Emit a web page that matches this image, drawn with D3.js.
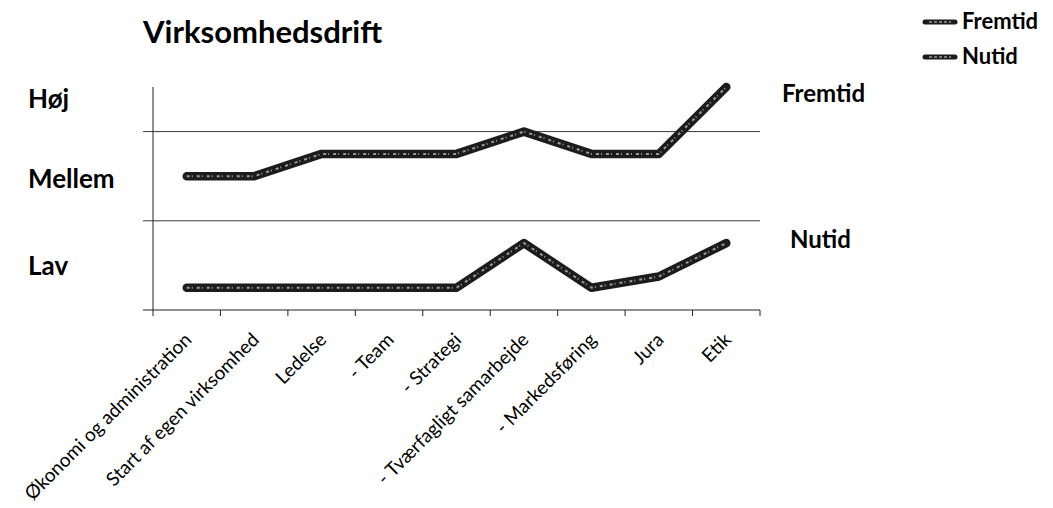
<!DOCTYPE html>
<html>
<head>
<meta charset="utf-8">
<script src="https://cdn.jsdelivr.net/npm/d3@7"></script>
<style>
  html, body { margin: 0; padding: 0; background: #fff; }
  svg { display: block; font-family: Lato, "Open Sans", sans-serif; }
</style>
</head>
<body>
<svg id="chart" width="1053" height="508"></svg>
<script>
// Competence areas along the x axis
const categories = [
  "Økonomi og administration",
  "Start af egen virksomhed",
  "Ledelse",
  "- Team",
  "- Strategi",
  "- Tværfagligt samarbejde",
  "- Markedsføring",
  "Jura",
  "Etik"
];

// Level per area, on a 0–5 scale
const fremtid = [3, 3, 3.5, 3.5, 3.5, 4, 3.5, 3.5, 5];
const nutid   = [0.5, 0.5, 0.5, 0.5, 0.5, 1.5, 0.5, 0.75, 1.5];

const seriesNames = ["Fremtid", "Nutid"];
const levelLabels = ["Høj", "Mellem", "Lav"];
const gridValues = [2, 4];

const svg = d3.select("#chart");

const plot = { left: 153, right: 760, top: 87, bottom: 310 };

const x = d3.scaleBand()
  .domain(categories)
  .range([plot.left, plot.right])
  .paddingInner(0)
  .paddingOuter(0);

const y = d3.scaleLinear()
  .domain([0, 5])
  .range([plot.bottom, plot.top]);

// Title
svg.append("text")
  .attr("x", 143).attr("y", 43)
  .attr("font-weight", 700)
  .attr("font-size", 31)
  .text("Virksomhedsdrift");

// Horizontal gridlines with outside tick stubs
svg.append("g")
  .selectAll("line")
  .data(gridValues)
  .join("line")
  .attr("x1", plot.left - 10).attr("x2", plot.right)
  .attr("y1", d => y(d)).attr("y2", d => y(d))
  .attr("stroke", "#3a3a3a").attr("stroke-width", 1);

// Value axis line
svg.append("line")
  .attr("x1", plot.left).attr("x2", plot.left)
  .attr("y1", plot.top).attr("y2", plot.bottom + 6)
  .attr("stroke", "#222").attr("stroke-width", 1);

// Category axis with ticks between categories
const xAxis = svg.append("g")
  .attr("transform", `translate(0,${plot.bottom})`);
xAxis.append("line")
  .attr("x1", plot.left - 10).attr("x2", plot.right)
  .attr("stroke", "#222").attr("stroke-width", 1.2);
xAxis.selectAll("line.tick")
  .data(categories.slice(1))
  .join("line")
  .attr("class", "tick")
  .attr("x1", d => x(d)).attr("x2", d => x(d))
  .attr("y1", 0).attr("y2", 6)
  .attr("stroke", "#222").attr("stroke-width", 1);
xAxis.append("line")
  .attr("x1", plot.right).attr("x2", plot.right)
  .attr("y1", 0).attr("y2", 6)
  .attr("stroke", "#222").attr("stroke-width", 1);

// Rotated category labels
svg.append("g")
  .selectAll("text")
  .data(categories)
  .join("text")
  .attr("transform", d => `translate(${x(d) + x.bandwidth() / 2 + 6},${plot.bottom + 31}) rotate(-45)`)
  .attr("text-anchor", "end")
  .attr("font-size", 19)
  .text(d => d);

// Level labels on the left
const levelY = [108, 188, 275];
svg.append("g")
  .selectAll("text")
  .data(levelLabels)
  .join("text")
  .attr("x", 28)
  .attr("y", (d, i) => levelY[i])
  .attr("font-weight", 700)
  .attr("font-size", 26)
  .text(d => d);

// Lines
const line = d3.line()
  .x((d, i) => x(categories[i]) + x.bandwidth() / 2)
  .y(d => y(d));

function drawSeries(values) {
  const g = svg.append("g");
  g.append("path")
    .attr("d", line(values))
    .attr("fill", "none")
    .attr("stroke", "#1c1c1c")
    .attr("stroke-width", 8.5)
    .attr("stroke-linejoin", "round")
    .attr("stroke-linecap", "round");
  g.append("path")
    .attr("d", line(values))
    .attr("fill", "none")
    .attr("stroke", "#9a9a9a")
    .attr("stroke-width", 2)
    .attr("stroke-dasharray", "3,2,1,4")
    .attr("stroke-linejoin", "round");
}
drawSeries(fremtid);
drawSeries(nutid);

// Series labels right of the plot
svg.append("text")
  .attr("x", 782).attr("y", 102)
  .attr("font-weight", 700).attr("font-size", 24)
  .text(seriesNames[0]);
svg.append("text")
  .attr("x", 790).attr("y", 248)
  .attr("font-weight", 700).attr("font-size", 24)
  .text(seriesNames[1]);

// Legend
const legend = svg.append("g")
  .selectAll("g")
  .data(seriesNames)
  .join("g")
  .attr("transform", (d, i) => `translate(925,${22 + i * 35})`);
legend.append("line")
  .attr("x1", 0).attr("x2", 30)
  .attr("stroke", "#1c1c1c").attr("stroke-width", 5)
  .attr("stroke-linecap", "round");
legend.append("line")
  .attr("x1", 4).attr("x2", 26)
  .attr("stroke", "#9a9a9a").attr("stroke-width", 1.5)
  .attr("stroke-dasharray", "3,2");
legend.append("text")
  .attr("x", 37).attr("y", 7)
  .attr("font-weight", 700).attr("font-size", 22)
  .text(d => d);
</script>
</body>
</html>
